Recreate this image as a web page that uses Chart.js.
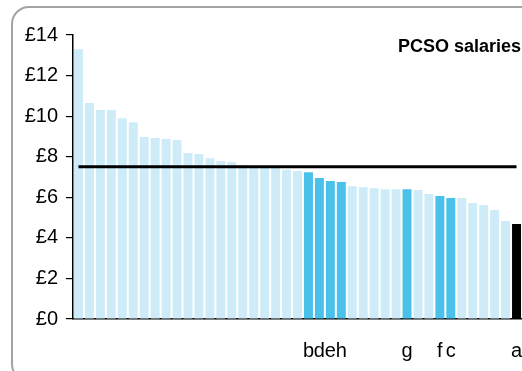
<!DOCTYPE html>
<html>
<head>
<meta charset="utf-8">
<script src="https://cdn.jsdelivr.net/npm/chart.js@4/dist/chart.umd.min.js"></script>
<style>
  html, body { margin: 0; padding: 0; background: #fff; overflow: hidden; }
  #wrap { position: relative; width: 522px; height: 371px; }
  #frame {
    position: absolute; left: 11px; top: 6px; width: 530px; height: 372px;
    border: 2px solid #a3a3a3; border-radius: 18px; pointer-events: none;
  }
</style>
</head>
<body>
<div id="wrap">
  <canvas id="chart" width="522" height="371"></canvas>
  <div id="frame"></div>
</div>
<script>
// force names shown under the bars (most forces unnamed)
const forces = ['', '', '', '', '', '', '', '', '', '', '', '', '', '', '', '', '', '', '', '', '',
  'b', 'd', 'e', 'h', '', '', '', '', '', 'g', '', '', 'f', 'c', '', '', '', '', '', 'a'];

// hourly PCSO pay, pounds
const salaries = [13.3, 10.65, 10.3, 10.3, 9.9, 9.7, 8.97, 8.92, 8.87, 8.82, 8.18, 8.13, 7.93, 7.79,
  7.74, 7.59, 7.54, 7.5, 7.47, 7.36, 7.29, 7.24, 6.95, 6.8, 6.75, 6.55, 6.5, 6.45, 6.4, 6.4,
  6.4, 6.36, 6.16, 6.06, 5.96, 5.96, 5.72, 5.62, 5.37, 4.83, 4.68];

// 0 = other force, 1 = highlighted, 2 = force a
const group = [0, 0, 0, 0, 0, 0, 0, 0, 0, 0, 0, 0, 0, 0, 0, 0, 0, 0, 0, 0, 0,
  1, 1, 1, 1, 0, 0, 0, 0, 0, 1, 0, 0, 1, 1, 0, 0, 0, 0, 0, 2];

const yTicks = [0, 2, 4, 6, 8, 10, 12, 14];
const meanSalary = 7.5;

const groupColours = ['#cdecf8', '#4ac1eb', '#000000'];
const FONT = 'Liberation Sans, Arial, sans-serif';

// average line + title drawn with the chart scales
const extras = {
  id: 'extras',
  afterDatasetsDraw(chart) {
    const c = chart.ctx, xs = chart.scales.x, ys = chart.scales.y;
    const y = ys.getPixelForValue(meanSalary);
    c.save();
    c.strokeStyle = '#000';
    c.lineWidth = 3;
    c.beginPath();
    c.moveTo(xs.getPixelForValue(0), y);
    c.lineTo(xs.getPixelForValue(salaries.length - 1), y);
    c.stroke();
    c.fillStyle = '#000';
    c.font = 'bold 18px ' + FONT;
    c.textAlign = 'right';
    c.textBaseline = 'alphabetic';
    c.fillText('PCSO salaries', chart.chartArea.right - 1, chart.chartArea.top + 17);
    c.restore();
  }
};

new Chart(document.getElementById('chart'), {
  type: 'bar',
  data: {
    labels: forces,
    datasets: [{
      data: salaries,
      backgroundColor: group.map(g => groupColours[g]),
      borderWidth: 0,
      categoryPercentage: 1,
      barPercentage: 0.82
    }]
  },
  options: {
    responsive: false,
    animation: false,
    layout: { padding: { left: 0, right: 0, top: 35, bottom: 0 } },
    plugins: { legend: { display: false }, tooltip: { enabled: false } },
    scales: {
      x: {
        grid: { display: false },
        border: { color: '#000', width: 1.5 },
        ticks: {
          autoSkip: false, maxRotation: 0, padding: 12,
          color: '#000', font: { family: FONT, size: 20 }
        },
        afterFit(scale) {
          scale.height = 52;
          scale.paddingLeft = 0;
          scale.paddingRight = 0;
        }
      },
      y: {
        min: 0, max: 14,
        afterBuildTicks(scale) { scale.ticks = yTicks.map(v => ({ value: v })); },
        grid: { drawOnChartArea: false, drawTicks: true, tickLength: 7, color: '#000', lineWidth: 1.2 },
        border: { color: '#000', width: 1.5 },
        ticks: {
          padding: 8, color: '#000', font: { family: FONT, size: 20 },
          callback: v => '£' + v
        },
        afterFit(scale) {
          scale.width = 73;
          scale.paddingTop = 0;
          scale.paddingBottom = 0;
        }
      }
    }
  },
  plugins: [extras]
});
</script>
</body>
</html>
